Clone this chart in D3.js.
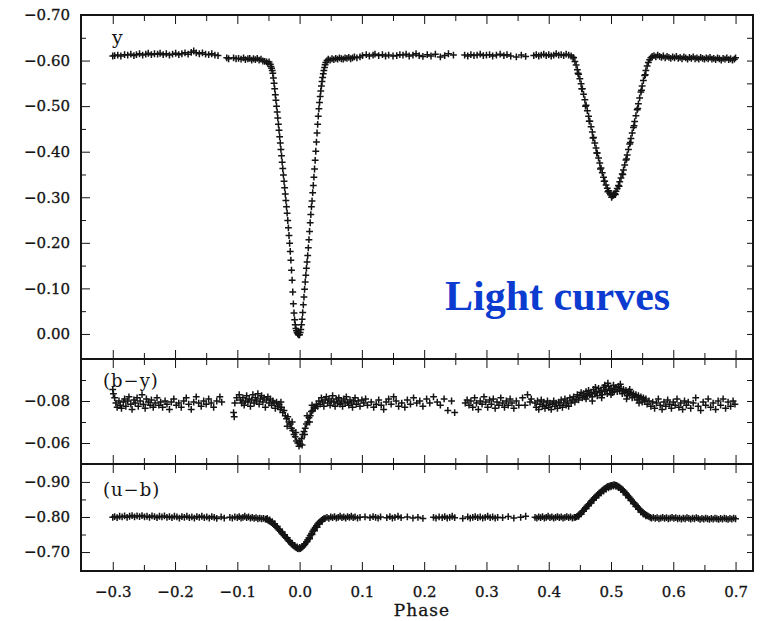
<!DOCTYPE html>
<html lang="en">
<head>
<meta charset="UTF-8"/>
<title>Light curves</title>
<script src="https://d3js.org/d3.v7.min.js"></script>
<style>
    body { margin: 0; background: #fff; }
    svg text { font-family: "DejaVu Serif", serif; fill: #141414; }
    .tick text { font-size: 15px; stroke: #141414; stroke-width: 0.3px; }
</style>
</head>
<body>
<script>
var w = 766;
var h = 621;

// phase axis
var phaseTicks = [-0.3, -0.2, -0.1, 0.0, 0.1, 0.2, 0.3, 0.4, 0.5, 0.6, 0.7];
var phaseMinor = [-0.25, -0.15, -0.05, 0.05, 0.15, 0.25, 0.35, 0.45, 0.55, 0.65];

// y panel ticks
var yTicks = [-0.70, -0.60, -0.50, -0.40, -0.30, -0.20, -0.10, 0.00];
var yMinor = [-0.65, -0.55, -0.45, -0.35, -0.25, -0.15, -0.05];
// (b-y) panel ticks
var byTicks = [-0.08, -0.06];
var byMinor = [-0.09, -0.07];
// (u-b) panel ticks
var ubTicks = [-0.90, -0.80, -0.70];
var ubMinor = [-0.85, -0.75];

// y magnitude vs phase
var yData = [
[-0.300,-0.610],[-0.297,-0.611],[-0.292,-0.612],[-0.287,-0.610],[-0.281,-0.613],[-0.276,-0.612],[-0.271,-0.614],[-0.266,-0.611],
[-0.262,-0.613],[-0.257,-0.615],[-0.252,-0.612],[-0.247,-0.614],[-0.243,-0.616],[-0.238,-0.613],[-0.233,-0.615],[-0.228,-0.614],
[-0.224,-0.616],[-0.219,-0.613],[-0.214,-0.615],[-0.209,-0.612],[-0.204,-0.614],[-0.199,-0.616],[-0.194,-0.613],[-0.189,-0.615],
[-0.184,-0.617],[-0.179,-0.614],[-0.174,-0.618],[-0.170,-0.621],[-0.166,-0.617],[-0.161,-0.615],[-0.156,-0.617],[-0.151,-0.614],
[-0.146,-0.613],[-0.141,-0.615],[-0.136,-0.612],[-0.131,-0.611],[-0.117,-0.606],[-0.114,-0.604],
[-0.106,-0.606],[-0.102,-0.604],[-0.098,-0.605],[-0.094,-0.603],[-0.090,-0.606],[-0.087,-0.602],[-0.083,-0.604],[-0.080,-0.605],
[-0.077,-0.601],[-0.074,-0.604],[-0.071,-0.602],[-0.068,-0.605],[-0.065,-0.601],[-0.062,-0.603],[-0.059,-0.599],[-0.056,-0.598],
[-0.053,-0.597],[-0.051,-0.594],[-0.049,-0.597],[-0.047,-0.592],[-0.046,-0.587],[-0.045,-0.583],[-0.044,-0.578],[-0.043,-0.572],
[-0.042,-0.562],[-0.041,-0.550],[-0.040,-0.538],[-0.039,-0.525],[-0.038,-0.513],[-0.037,-0.500],[-0.036,-0.487],[-0.035,-0.474],
[-0.034,-0.460],[-0.033,-0.447],[-0.032,-0.433],[-0.031,-0.419],[-0.030,-0.405],[-0.029,-0.391],[-0.028,-0.377],[-0.027,-0.363],
[-0.026,-0.349],[-0.025,-0.335],[-0.024,-0.321],[-0.023,-0.307],[-0.022,-0.293],[-0.021,-0.279],[-0.020,-0.265],[-0.019,-0.249],
[-0.018,-0.233],[-0.017,-0.216],[-0.016,-0.199],[-0.015,-0.181],[-0.014,-0.162],[-0.013,-0.140],[-0.012,-0.118],[-0.011,-0.092],
[-0.010,-0.066],[-0.009,-0.046],[-0.008,-0.031],[-0.007,-0.020],[-0.006,-0.012],[-0.005,-0.007],[-0.004,-0.003],[-0.003,-0.001],
[-0.002,0.002],[-0.001,0.001],[0.000,0.002],[0.001,-0.003],[0.002,-0.010],[0.003,-0.020],[0.004,-0.032],[0.005,-0.047],
[0.006,-0.064],[0.007,-0.081],[0.008,-0.098],[0.009,-0.114],[0.010,-0.129],[0.011,-0.144],[0.012,-0.158],[0.013,-0.172],
[0.014,-0.189],[0.015,-0.207],[0.016,-0.225],[0.017,-0.244],[0.018,-0.262],[0.019,-0.279],[0.020,-0.292],[0.021,-0.310],
[0.022,-0.326],[0.023,-0.344],[0.024,-0.362],[0.025,-0.381],[0.026,-0.401],[0.027,-0.421],[0.028,-0.441],[0.029,-0.460],
[0.030,-0.478],[0.031,-0.494],[0.032,-0.508],[0.033,-0.521],[0.034,-0.533],[0.035,-0.544],[0.036,-0.554],[0.037,-0.563],
[0.038,-0.571],[0.039,-0.578],[0.040,-0.585],[0.041,-0.591],[0.042,-0.596],[0.044,-0.600],[0.046,-0.603],
[0.049,-0.601],[0.052,-0.604],[0.055,-0.602],[0.058,-0.605],[0.061,-0.603],[0.064,-0.606],[0.067,-0.604],[0.070,-0.603],
[0.073,-0.606],[0.076,-0.605],[0.079,-0.607],[0.082,-0.604],[0.085,-0.606],[0.088,-0.608],[0.092,-0.606],[0.097,-0.608],
[0.101,-0.611],[0.107,-0.613],[0.112,-0.610],[0.118,-0.612],[0.121,-0.614],[0.127,-0.611],[0.133,-0.613],[0.138,-0.610],
[0.143,-0.612],[0.150,-0.610],[0.156,-0.611],[0.161,-0.613],[0.166,-0.612],[0.171,-0.614],[0.176,-0.610],[0.182,-0.612],
[0.187,-0.615],[0.192,-0.611],[0.198,-0.609],[0.205,-0.613],[0.211,-0.610],[0.218,-0.614],[0.226,-0.608],[0.233,-0.611],
[0.239,-0.615],[0.247,-0.612],[0.265,-0.612],[0.270,-0.610],[0.275,-0.613],[0.280,-0.611],[0.285,-0.612],[0.290,-0.614],
[0.295,-0.611],[0.300,-0.612],[0.305,-0.613],[0.310,-0.610],[0.316,-0.612],[0.322,-0.614],[0.328,-0.611],[0.333,-0.613],
[0.339,-0.610],[0.348,-0.608],[0.356,-0.612],[0.363,-0.609],[0.376,-0.611],[0.380,-0.613],[0.384,-0.610],[0.388,-0.612],
[0.392,-0.614],[0.396,-0.611],[0.400,-0.613],[0.404,-0.610],[0.408,-0.612],[0.412,-0.615],[0.416,-0.612],[0.420,-0.613],
[0.424,-0.611],[0.428,-0.614],[0.432,-0.612],[0.436,-0.610],[0.439,-0.607],
[0.440,-0.606],[0.442,-0.598],[0.444,-0.590],[0.446,-0.580],[0.448,-0.570],[0.450,-0.560],[0.452,-0.549],[0.454,-0.538],
[0.456,-0.526],[0.458,-0.514],[0.460,-0.502],[0.462,-0.490],[0.464,-0.478],[0.466,-0.467],[0.468,-0.455],[0.470,-0.443],
[0.472,-0.431],[0.474,-0.419],[0.476,-0.408],[0.478,-0.397],[0.480,-0.386],[0.482,-0.375],[0.484,-0.364],[0.486,-0.354],
[0.488,-0.344],[0.490,-0.335],[0.492,-0.327],[0.494,-0.320],[0.496,-0.314],[0.498,-0.309],[0.500,-0.305],[0.502,-0.303],
[0.504,-0.304],[0.506,-0.308],[0.508,-0.313],[0.510,-0.319],[0.512,-0.326],[0.514,-0.334],[0.516,-0.342],[0.518,-0.351],
[0.520,-0.360],[0.522,-0.371],[0.524,-0.382],[0.526,-0.393],[0.528,-0.405],[0.530,-0.417],[0.532,-0.429],[0.534,-0.441],
[0.536,-0.453],[0.538,-0.466],[0.540,-0.479],[0.542,-0.492],[0.544,-0.505],[0.546,-0.518],[0.548,-0.531],[0.550,-0.544],
[0.552,-0.556],[0.554,-0.567],[0.556,-0.578],[0.558,-0.588],[0.560,-0.596],[0.562,-0.602],[0.564,-0.606],
[0.447,-0.572],[0.453,-0.538],[0.459,-0.500],[0.465,-0.467],[0.471,-0.430],[0.477,-0.397],[0.483,-0.362],[0.489,-0.335],
[0.495,-0.312],[0.501,-0.300],[0.507,-0.306],[0.513,-0.324],[0.519,-0.350],[0.525,-0.384],[0.531,-0.420],[0.537,-0.457],
[0.543,-0.495],[0.549,-0.535],[0.555,-0.569],
[0.566,-0.609],[0.569,-0.611],[0.572,-0.608],[0.575,-0.612],[0.578,-0.609],[0.581,-0.607],[0.584,-0.610],[0.587,-0.606],
[0.590,-0.609],[0.593,-0.607],[0.596,-0.605],[0.599,-0.608],[0.602,-0.606],[0.605,-0.609],[0.608,-0.605],[0.611,-0.607],
[0.614,-0.604],[0.617,-0.608],[0.620,-0.606],[0.623,-0.603],[0.626,-0.607],[0.629,-0.605],[0.632,-0.608],[0.635,-0.604],
[0.638,-0.606],[0.641,-0.603],[0.644,-0.607],[0.647,-0.605],[0.650,-0.603],[0.653,-0.606],[0.656,-0.604],[0.659,-0.607],
[0.662,-0.603],[0.665,-0.605],[0.668,-0.602],[0.671,-0.606],[0.674,-0.604],[0.677,-0.601],[0.680,-0.605],[0.683,-0.603],
[0.686,-0.606],[0.689,-0.602],[0.692,-0.604],[0.695,-0.601],[0.698,-0.603],[0.700,-0.606]
];

// (b-y) colour index vs phase
var byData = [
[-0.300,-0.0855],[-0.299,-0.0835],[-0.297,-0.0815],[-0.295,-0.0790],[-0.293,-0.0770],[-0.290,-0.0800],[-0.288,-0.0780],[-0.286,-0.0765],
[-0.283,-0.0795],[-0.281,-0.0810],[-0.279,-0.0775],[-0.276,-0.0800],[-0.274,-0.0820],[-0.271,-0.0785],[-0.269,-0.0760],[-0.266,-0.0805],
[-0.264,-0.0790],[-0.261,-0.0815],[-0.259,-0.0775],[-0.256,-0.0800],[-0.253,-0.0830],[-0.251,-0.0785],[-0.248,-0.0765],[-0.246,-0.0810],
[-0.243,-0.0795],[-0.240,-0.0780],[-0.238,-0.0805],[-0.235,-0.0770],[-0.232,-0.0790],[-0.229,-0.0815],[-0.226,-0.0780],[-0.223,-0.0795],
[-0.220,-0.0770],[-0.216,-0.0800],[-0.213,-0.0785],[-0.209,-0.0760],[-0.206,-0.0795],[-0.202,-0.0810],[-0.198,-0.0780],[-0.194,-0.0790],
[-0.190,-0.0770],[-0.186,-0.0800],[-0.182,-0.0815],[-0.178,-0.0785],[-0.174,-0.0760],[-0.170,-0.0795],[-0.166,-0.0820],[-0.162,-0.0790],
[-0.158,-0.0775],[-0.154,-0.0800],[-0.150,-0.0785],[-0.146,-0.0810],[-0.142,-0.0790],[-0.138,-0.0770],[-0.133,-0.0800],[-0.128,-0.0820],
[-0.125,-0.0795],[-0.106,-0.0745],[-0.105,-0.0725],[-0.104,-0.0790],[-0.101,-0.0815],
[-0.097,-0.0830],[-0.095,-0.0805],[-0.093,-0.0790],[-0.091,-0.0815],[-0.089,-0.0780],[-0.087,-0.0800],[-0.085,-0.0825],[-0.083,-0.0795],
[-0.081,-0.0810],[-0.079,-0.0775],[-0.077,-0.0805],[-0.075,-0.0830],[-0.073,-0.0790],[-0.071,-0.0815],[-0.069,-0.0800],[-0.067,-0.0835],
[-0.065,-0.0785],[-0.063,-0.0810],[-0.061,-0.0825],[-0.059,-0.0795],[-0.057,-0.0815],[-0.055,-0.0770],[-0.053,-0.0805],[-0.051,-0.0820],
[-0.049,-0.0790],[-0.047,-0.0810],[-0.045,-0.0780],[-0.043,-0.0800],[-0.041,-0.0790],[-0.039,-0.0765],[-0.037,-0.0795],[-0.035,-0.0775],
[-0.033,-0.0785],[-0.031,-0.0760],[-0.030,-0.0795],[-0.029,-0.0770],[-0.027,-0.0745],[-0.025,-0.0755],[-0.023,-0.0730],[-0.021,-0.0715],
[-0.020,-0.0680],[-0.019,-0.0725],[-0.017,-0.0700],[-0.015,-0.0690],[-0.013,-0.0670],[-0.012,-0.0700],[-0.011,-0.0660],[-0.009,-0.0640],
[-0.007,-0.0630],[-0.006,-0.0650],[-0.005,-0.0610],[-0.003,-0.0600],[-0.001,-0.0585],[0.000,-0.0610],[0.001,-0.0595],[0.003,-0.0620],
[0.004,-0.0590],[0.005,-0.0640],[0.007,-0.0655],[0.008,-0.0640],[0.009,-0.0670],[0.011,-0.0690],[0.012,-0.0730],[0.013,-0.0700],
[0.015,-0.0720],[0.016,-0.0700],[0.017,-0.0730],[0.019,-0.0750],[0.020,-0.0780],[0.021,-0.0755],[0.023,-0.0770],[0.025,-0.0765],
[0.027,-0.0785],[0.029,-0.0775],
[0.031,-0.0800],[0.033,-0.0785],[0.035,-0.0815],[0.037,-0.0795],[0.039,-0.0775],[0.041,-0.0805],[0.043,-0.0820],[0.045,-0.0790],
[0.047,-0.0810],[0.049,-0.0780],[0.051,-0.0800],[0.053,-0.0825],[0.055,-0.0795],[0.057,-0.0775],[0.059,-0.0810],[0.061,-0.0790],
[0.063,-0.0815],[0.065,-0.0785],[0.067,-0.0800],[0.069,-0.0775],[0.071,-0.0810],[0.073,-0.0790],[0.075,-0.0820],[0.077,-0.0795],
[0.079,-0.0780],[0.081,-0.0805],[0.083,-0.0790],[0.085,-0.0770],[0.087,-0.0800],[0.089,-0.0815],[0.091,-0.0785],[0.094,-0.0800],
[0.097,-0.0775],[0.100,-0.0805],[0.103,-0.0790],[0.106,-0.0810],[0.109,-0.0780],
[0.115,-0.0795],[0.119,-0.0770],[0.123,-0.0785],[0.127,-0.0805],[0.131,-0.0780],[0.135,-0.0760],[0.139,-0.0795],[0.143,-0.0810],
[0.147,-0.0785],[0.151,-0.0820],[0.155,-0.0800],[0.159,-0.0775],[0.164,-0.0790],[0.169,-0.0770],[0.173,-0.0805],[0.178,-0.0785],
[0.183,-0.0815],[0.188,-0.0790],[0.193,-0.0800],[0.198,-0.0775],[0.204,-0.0810],[0.209,-0.0790],[0.215,-0.0820],[0.221,-0.0795],
[0.226,-0.0780],[0.232,-0.0810],[0.238,-0.0755],[0.244,-0.0800],[0.249,-0.0745],
[0.266,-0.0790],[0.269,-0.0805],[0.272,-0.0780],[0.275,-0.0800],[0.278,-0.0770],[0.281,-0.0815],[0.284,-0.0790],[0.287,-0.0760],
[0.290,-0.0800],[0.293,-0.0785],[0.296,-0.0820],[0.299,-0.0795],[0.302,-0.0770],[0.305,-0.0805],[0.308,-0.0785],[0.311,-0.0810],
[0.314,-0.0765],[0.317,-0.0795],[0.320,-0.0780],[0.323,-0.0815],[0.326,-0.0790],[0.329,-0.0770],[0.332,-0.0800],[0.335,-0.0780],
[0.338,-0.0810],[0.341,-0.0790],[0.344,-0.0765],[0.348,-0.0800],[0.352,-0.0780],
[0.358,-0.0815],[0.362,-0.0780],[0.366,-0.0830],[0.370,-0.0795],[0.372,-0.0810],
[0.378,-0.0790],[0.380,-0.0770],[0.382,-0.0800],[0.384,-0.0760],[0.386,-0.0785],[0.388,-0.0805],[0.390,-0.0775],[0.392,-0.0795],
[0.394,-0.0765],[0.396,-0.0780],[0.398,-0.0800],[0.400,-0.0770],[0.402,-0.0790],[0.404,-0.0760],[0.406,-0.0785],[0.408,-0.0800],
[0.410,-0.0775],[0.412,-0.0790],[0.414,-0.0765],[0.416,-0.0795],[0.418,-0.0780],[0.420,-0.0805],[0.422,-0.0770],[0.424,-0.0790],
[0.426,-0.0810],[0.428,-0.0780],[0.430,-0.0800],[0.432,-0.0775],[0.434,-0.0815],[0.436,-0.0790],[0.438,-0.0805],[0.440,-0.0820],
[0.442,-0.0795],[0.444,-0.0810],
[0.446,-0.0830],[0.448,-0.0805],[0.450,-0.0825],[0.452,-0.0840],[0.454,-0.0815],[0.456,-0.0835],[0.458,-0.0820],[0.460,-0.0845],
[0.460,-0.0810],[0.462,-0.0825],[0.464,-0.0850],[0.466,-0.0830],[0.468,-0.0840],[0.470,-0.0820],[0.470,-0.0800],[0.472,-0.0855],
[0.474,-0.0835],[0.475,-0.0865],[0.476,-0.0845],[0.478,-0.0825],[0.480,-0.0860],[0.482,-0.0840],[0.484,-0.0850],[0.485,-0.0815],
[0.486,-0.0830],[0.488,-0.0865],[0.490,-0.0845],[0.490,-0.0875],[0.492,-0.0855],[0.494,-0.0835],[0.495,-0.0885],[0.496,-0.0870],
[0.498,-0.0850],[0.500,-0.0860],[0.500,-0.0830],[0.502,-0.0840],[0.504,-0.0875],[0.505,-0.0845],[0.506,-0.0855],[0.508,-0.0865],
[0.510,-0.0845],[0.512,-0.0870],[0.514,-0.0850],[0.515,-0.0880],[0.516,-0.0860],[0.518,-0.0835],[0.520,-0.0855],[0.522,-0.0840],
[0.524,-0.0850],[0.525,-0.0810],[0.526,-0.0825],[0.528,-0.0845],[0.530,-0.0830],[0.530,-0.0855],[0.532,-0.0840],[0.534,-0.0815],
[0.536,-0.0835],[0.538,-0.0820],[0.540,-0.0830],[0.542,-0.0805],[0.544,-0.0825],[0.545,-0.0790],[0.546,-0.0810],[0.548,-0.0820],
[0.550,-0.0795],[0.552,-0.0815],[0.554,-0.0800],[0.556,-0.0810],[0.558,-0.0785],
[0.561,-0.0800],[0.564,-0.0775],[0.567,-0.0795],[0.570,-0.0765],[0.573,-0.0790],[0.576,-0.0810],[0.579,-0.0780],[0.582,-0.0760],
[0.585,-0.0795],[0.588,-0.0775],[0.591,-0.0805],[0.594,-0.0785],[0.597,-0.0765],[0.600,-0.0795],[0.603,-0.0780],[0.606,-0.0810],
[0.609,-0.0770],[0.612,-0.0790],[0.615,-0.0760],[0.618,-0.0800],[0.621,-0.0780],[0.624,-0.0795],[0.628,-0.0765],[0.632,-0.0790],
[0.636,-0.0815],[0.640,-0.0775],[0.644,-0.0755],[0.648,-0.0795],[0.652,-0.0780],[0.656,-0.0810],[0.660,-0.0770],[0.664,-0.0790],
[0.668,-0.0760],[0.672,-0.0800],[0.676,-0.0780],[0.680,-0.0810],[0.684,-0.0765],[0.688,-0.0795],[0.692,-0.0775],[0.696,-0.0800],
[0.699,-0.0785]
];

// (u-b) colour index vs phase
var ubData = [
[-0.300,-0.799],[-0.297,-0.801],[-0.293,-0.798],[-0.289,-0.802],[-0.285,-0.800],[-0.281,-0.803],[-0.277,-0.799],[-0.273,-0.802],
[-0.269,-0.804],[-0.265,-0.800],[-0.261,-0.803],[-0.257,-0.801],[-0.253,-0.804],[-0.249,-0.800],[-0.245,-0.802],[-0.241,-0.799],
[-0.237,-0.803],[-0.233,-0.801],[-0.229,-0.798],[-0.225,-0.802],[-0.221,-0.800],[-0.217,-0.803],[-0.213,-0.799],[-0.209,-0.801],
[-0.205,-0.798],[-0.201,-0.802],[-0.197,-0.800],[-0.193,-0.797],[-0.189,-0.801],[-0.185,-0.799],[-0.181,-0.802],[-0.177,-0.798],
[-0.173,-0.800],[-0.169,-0.797],[-0.165,-0.801],[-0.161,-0.799],[-0.157,-0.802],[-0.153,-0.798],[-0.149,-0.800],[-0.145,-0.797],
[-0.141,-0.801],[-0.137,-0.799],[-0.133,-0.796],[-0.126,-0.800],[-0.121,-0.797],
[-0.112,-0.799],[-0.108,-0.797],[-0.104,-0.800],[-0.100,-0.798],[-0.097,-0.801],[-0.094,-0.797],[-0.091,-0.799],[-0.088,-0.802],
[-0.085,-0.798],[-0.082,-0.800],[-0.079,-0.797],[-0.076,-0.799],[-0.073,-0.796],[-0.070,-0.798],[-0.067,-0.795],[-0.064,-0.797],
[-0.061,-0.795],[-0.058,-0.796],[-0.055,-0.794],
[-0.053,-0.793],[-0.052,-0.796],[-0.051,-0.791],[-0.049,-0.789],[-0.048,-0.792],[-0.047,-0.787],[-0.045,-0.784],[-0.044,-0.787],
[-0.043,-0.781],[-0.041,-0.778],[-0.040,-0.781],[-0.039,-0.775],[-0.037,-0.771],[-0.036,-0.773],[-0.035,-0.767],[-0.033,-0.763],
[-0.032,-0.765],[-0.031,-0.759],[-0.029,-0.755],[-0.028,-0.757],[-0.027,-0.751],[-0.025,-0.747],[-0.024,-0.749],[-0.023,-0.743],
[-0.021,-0.739],[-0.020,-0.741],[-0.019,-0.735],[-0.017,-0.731],[-0.016,-0.733],[-0.015,-0.727],[-0.013,-0.723],[-0.012,-0.725],
[-0.011,-0.720],[-0.009,-0.717],[-0.008,-0.719],[-0.007,-0.714],[-0.005,-0.712],[-0.004,-0.715],[-0.003,-0.710],[-0.001,-0.709],
[0.000,-0.713],[0.001,-0.710],[0.003,-0.712],[0.004,-0.716],[0.005,-0.715],[0.007,-0.719],[0.008,-0.722],[0.009,-0.724],
[0.011,-0.729],[0.012,-0.730],[0.013,-0.735],[0.015,-0.741],[0.016,-0.738],[0.017,-0.747],[0.019,-0.753],[0.020,-0.750],
[0.021,-0.759],[0.023,-0.765],[0.024,-0.761],[0.025,-0.770],[0.027,-0.775],[0.028,-0.771],[0.029,-0.780],[0.031,-0.784],
[0.032,-0.780],[0.033,-0.787],[0.035,-0.790],[0.036,-0.788],[0.037,-0.793],[0.039,-0.795],
[0.041,-0.797],[0.044,-0.799],[0.047,-0.796],[0.050,-0.800],[0.053,-0.798],[0.056,-0.801],[0.059,-0.797],[0.062,-0.799],
[0.065,-0.802],[0.068,-0.798],[0.071,-0.800],[0.074,-0.797],[0.077,-0.801],[0.080,-0.799],[0.083,-0.802],[0.086,-0.798],
[0.089,-0.800],[0.093,-0.797],[0.097,-0.799],
[0.105,-0.800],[0.113,-0.798],[0.118,-0.801],[0.122,-0.799],[0.126,-0.797],[0.130,-0.800],[0.140,-0.798],[0.145,-0.801],
[0.149,-0.797],[0.153,-0.799],[0.158,-0.802],[0.163,-0.798],[0.173,-0.800],[0.182,-0.797],[0.190,-0.799],[0.198,-0.796],
[0.215,-0.799],[0.219,-0.797],[0.224,-0.800],[0.229,-0.798],[0.233,-0.801],[0.237,-0.797],[0.241,-0.799],[0.245,-0.802],
[0.249,-0.798],[0.262,-0.796],
[0.270,-0.800],[0.274,-0.797],[0.278,-0.799],[0.282,-0.801],[0.286,-0.798],[0.290,-0.800],[0.294,-0.797],[0.298,-0.799],
[0.302,-0.802],[0.306,-0.798],[0.310,-0.800],[0.314,-0.797],[0.318,-0.799],[0.326,-0.798],[0.335,-0.801],[0.344,-0.797],
[0.355,-0.799],[0.363,-0.802],
[0.378,-0.799],[0.381,-0.797],[0.384,-0.800],[0.387,-0.798],[0.390,-0.801],[0.393,-0.797],[0.396,-0.799],[0.399,-0.802],
[0.402,-0.798],[0.405,-0.800],[0.408,-0.797],[0.411,-0.799],[0.414,-0.801],[0.417,-0.798],[0.420,-0.800],[0.423,-0.797],
[0.426,-0.799],[0.429,-0.801],[0.432,-0.798],[0.435,-0.800],[0.438,-0.797],[0.441,-0.799],
[0.443,-0.799],[0.445,-0.801],[0.447,-0.803],[0.448,-0.802],[0.449,-0.806],[0.451,-0.810],[0.452,-0.808],[0.453,-0.814],
[0.455,-0.818],[0.456,-0.816],[0.457,-0.822],[0.459,-0.826],[0.460,-0.824],[0.461,-0.830],[0.463,-0.834],[0.464,-0.832],
[0.465,-0.838],[0.467,-0.842],[0.468,-0.840],[0.469,-0.846],[0.471,-0.850],[0.472,-0.848],[0.473,-0.854],[0.475,-0.857],
[0.476,-0.855],[0.477,-0.861],[0.479,-0.864],[0.480,-0.862],[0.481,-0.868],[0.483,-0.871],[0.484,-0.868],[0.485,-0.874],
[0.487,-0.877],[0.488,-0.874],[0.489,-0.880],[0.491,-0.882],[0.492,-0.879],[0.493,-0.885],[0.495,-0.887],[0.496,-0.883],
[0.497,-0.888],[0.499,-0.889],[0.500,-0.886],[0.501,-0.890],[0.503,-0.891],[0.504,-0.888],[0.505,-0.892],[0.507,-0.891],
[0.508,-0.887],[0.509,-0.890],[0.511,-0.888],[0.512,-0.884],[0.513,-0.886],[0.515,-0.883],[0.516,-0.878],[0.517,-0.880],
[0.519,-0.877],[0.520,-0.871],[0.521,-0.873],[0.523,-0.869],[0.524,-0.863],[0.525,-0.865],[0.527,-0.861],[0.528,-0.855],
[0.529,-0.857],[0.531,-0.853],[0.532,-0.847],[0.533,-0.848],[0.535,-0.844],[0.536,-0.838],[0.537,-0.840],[0.539,-0.836],
[0.540,-0.830],[0.541,-0.832],[0.543,-0.828],[0.544,-0.822],[0.545,-0.824],[0.547,-0.820],[0.548,-0.814],[0.549,-0.816],
[0.551,-0.813],[0.552,-0.808],[0.553,-0.810],[0.555,-0.807],[0.556,-0.803],[0.557,-0.805],[0.559,-0.803],[0.561,-0.801],
[0.563,-0.799],
[0.565,-0.797],[0.568,-0.799],[0.571,-0.796],[0.574,-0.798],[0.577,-0.795],[0.580,-0.797],[0.583,-0.799],[0.586,-0.796],
[0.589,-0.798],[0.592,-0.795],[0.595,-0.797],[0.598,-0.799],[0.601,-0.796],[0.604,-0.798],[0.607,-0.795],[0.610,-0.797],
[0.613,-0.794],[0.616,-0.797],[0.619,-0.795],[0.622,-0.798],[0.625,-0.796],[0.628,-0.794],[0.631,-0.797],[0.634,-0.795],
[0.637,-0.798],[0.640,-0.796],[0.643,-0.793],[0.646,-0.796],[0.649,-0.794],[0.652,-0.797],[0.655,-0.795],[0.658,-0.793],
[0.661,-0.796],[0.664,-0.794],[0.667,-0.797],[0.670,-0.795],[0.673,-0.793],[0.676,-0.796],[0.679,-0.794],[0.682,-0.797],
[0.685,-0.795],[0.688,-0.793],[0.691,-0.796],[0.694,-0.794],[0.697,-0.797],[0.700,-0.795]
];

var left = 81, right = 753;
var ink = "#141414";

var x = d3.scaleLinear()
    .domain([-0.351, 0.728])
    .range([left, right]);

// three stacked panels, magnitudes increase downward
var panels = [
    { top: 15,  bottom: 359, domain: [0.055, -0.70],  data: yData,  ticks: yTicks,  minor: yMinor,  label: "y",     lx: 112, ly: 44 },
    { top: 359, bottom: 464, domain: [-0.05, -0.10],  data: byData, ticks: byTicks, minor: byMinor, label: "(b\u2212y)", lx: 103, ly: 387 },
    { top: 464, bottom: 571, domain: [-0.646, -0.951], data: ubData, ticks: ubTicks, minor: ubMinor, label: "(u\u2212b)", lx: 103, ly: 496 }
];

var svg = d3.select("body")
    .append("svg")
    .attr("width", w)
    .attr("height", h);

svg.append("rect")
    .attr("width", w)
    .attr("height", h)
    .attr("fill", "#fff");

panels.forEach(function(p, i) {
    var y = d3.scaleLinear()
        .domain(p.domain)
        .range([p.bottom, p.top]);

    // left axis with labels, ticks pointing inward
    svg.append("g")
        .attr("transform", "translate(" + left + ",0)")
        .attr("color", ink)
        .call(d3.axisLeft(y).tickValues(p.ticks).tickSize(-9).tickPadding(11).tickFormat(d3.format(".2f")))
        .call(function(g) { g.select(".domain").remove(); });

    svg.append("g")
        .attr("transform", "translate(" + left + ",0)")
        .attr("color", ink)
        .call(d3.axisLeft(y).tickValues(p.minor).tickSize(-5).tickFormat(""))
        .call(function(g) { g.select(".domain").remove(); });

    // right side ticks
    svg.append("g")
        .attr("transform", "translate(" + right + ",0)")
        .attr("color", ink)
        .call(d3.axisRight(y).tickValues(p.ticks.concat(p.minor)).tickSize(-6).tickFormat(""))
        .call(function(g) { g.select(".domain").remove(); });

    // phase ticks on top and bottom edges of each panel
    svg.append("g")
        .attr("transform", "translate(0," + p.top + ")")
        .attr("color", ink)
        .call(d3.axisTop(x).tickValues(phaseTicks).tickSize(-9).tickFormat(""))
        .call(function(g) { g.select(".domain").remove(); });
    svg.append("g")
        .attr("transform", "translate(0," + p.top + ")")
        .attr("color", ink)
        .call(d3.axisTop(x).tickValues(phaseMinor).tickSize(-6).tickFormat(""))
        .call(function(g) { g.select(".domain").remove(); });

    var bottomAxis = d3.axisBottom(x).tickValues(phaseTicks).tickSize(-9);
    if (i == panels.length - 1) {
        bottomAxis.tickPadding(15).tickFormat(d3.format(".1f"));
    } else {
        bottomAxis.tickFormat("");
    }
    svg.append("g")
        .attr("transform", "translate(0," + p.bottom + ")")
        .attr("color", ink)
        .call(bottomAxis)
        .call(function(g) { g.select(".domain").remove(); });
    svg.append("g")
        .attr("transform", "translate(0," + p.bottom + ")")
        .attr("color", ink)
        .call(d3.axisBottom(x).tickValues(phaseMinor).tickSize(-6).tickFormat(""))
        .call(function(g) { g.select(".domain").remove(); });

    // data points drawn as small plus signs
    svg.append("g")
        .selectAll("path")
        .data(p.data)
        .enter()
        .append("path")
        .attr("d", function(d) {
            var px = x(d[0]), py = y(d[1]);
            return "M" + (px - 3.4) + "," + py + "h6.8M" + px + "," + (py - 3.4) + "v6.8";
        })
        .attr("fill", "none")
        .attr("stroke", ink)
        .attr("stroke-width", 1.5);

    svg.append("text")
        .attr("x", p.lx)
        .attr("y", p.ly)
        .attr("font-size", i == 0 ? "19px" : "18px")
        .attr("letter-spacing", i == 0 ? 0 : 1)
        .text(p.label);

    // frame of the panel
    svg.append("rect")
        .attr("x", left)
        .attr("y", p.top)
        .attr("width", right - left)
        .attr("height", p.bottom - p.top)
        .attr("fill", "none")
        .attr("stroke", ink)
        .attr("stroke-width", 2);
});

// x label
svg.append("text")
    .attr("x", (left + right) / 2 + 5)
    .attr("y", 616)
    .attr("text-anchor", "middle")
    .attr("font-size", "17px")
    .attr("letter-spacing", 1)
    .style("stroke", ink)
    .style("stroke-width", "0.3px")
    .text("Phase");

svg.append("text")
    .attr("x", 445)
    .attr("y", 310)
    .style("font-family", "'Liberation Serif', 'Times New Roman', serif")
    .style("fill", "#0b3bcf")
    .attr("font-size", "42px")
    .attr("font-weight", "bold")
    .text("Light curves");
</script>
</body>
</html>
